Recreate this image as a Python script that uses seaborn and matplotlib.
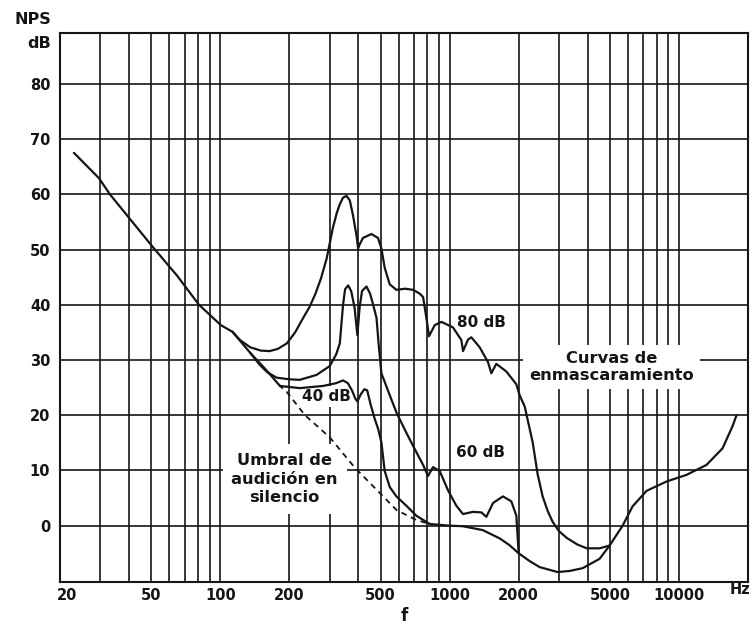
import matplotlib
matplotlib.use("Agg")
import matplotlib.pyplot as plt
import matplotlib.transforms as mtransforms
from matplotlib.ticker import FixedLocator, FixedFormatter, NullFormatter
import numpy as np
import seaborn as sns

# ---- data: frequency (Hz) and sound pressure level (dB) ----
# threshold of hearing in quiet
umbral_f = [23, 29.6, 33, 50.9, 64.7, 80.7, 100.6, 113, 135, 160, 182, 195, 234,
            300, 386, 588, 719, 819, 1000, 1140, 1394, 1652, 1820, 2000, 2230,
            2468, 2958, 3336, 3800, 4508, 4984, 5680, 6278, 7222, 8832, 10790,
            13188, 15486, 17118, 17826]
umbral_db = [67.5, 62.9, 60, 50.4, 45.3, 40, 36.3, 35.1, 31.3, 28.0, 25.3, 24.2,
             20, 16, 10.5, 2.8, 1.0, 0.3, 0, -0.1, -0.8, -2.3, -3.5, -5, -6.4,
             -7.5, -8.4, -8.2, -7.7, -6, -3.6, 0, 3.5, 6.3, 8, 9.2,
             11, 14, 18, 20]

# masking curve, 80 dB masker
m80_f = [113, 122, 135, 150, 164, 178, 195, 212, 229, 245, 260, 275, 291, 310,
         322, 332, 343, 355, 367, 379, 393, 399, 406, 419, 456, 487, 504, 521,
         548, 586, 640, 693, 741, 766, 792, 813, 861, 921, 1034, 1125, 1144,
         1203, 1244, 1352, 1470, 1520, 1598, 1768, 1954, 2020, 2124, 2302, 2420,
         2544, 2680, 2813, 3000, 3238, 3600, 3958, 4508, 4984]
m80_db = [35.1, 33.6, 32.3, 31.7, 31.6, 32.0, 33.0, 35.0, 37.5, 39.6, 42.0, 44.8,
          48.4, 54.0, 56.6, 58.2, 59.4, 59.7, 58.9, 56.2, 52.4, 50.2, 51.0, 52.1,
          52.8, 52.1, 50.2, 46.7, 43.7, 42.7, 42.9, 42.7, 42.0, 41.4, 37.6, 34.3,
          36.3, 36.9, 35.9, 33.6, 31.6, 33.7, 34.1, 32.3, 29.6, 27.6, 29.3, 27.9,
          25.6, 23.6, 21.6, 15.1, 9.3, 5.3, 2.6, 0.7, -1.0, -2.2, -3.4, -4.1,
          -4.1, -3.6]

# masking curve, 60 dB masker
m60_f = [135, 148, 160, 176, 200, 222, 263, 300, 320, 332, 343, 350, 361, 372,
         385, 396, 405, 415, 434, 450, 464, 480, 490, 504, 538, 586, 648, 704,
         766, 805, 846, 905, 984, 1070, 1144, 1264, 1375, 1446, 1546, 1708, 1858,
         1954, 2000]
m60_db = [31.3, 29.2, 27.8, 26.8, 26.5, 26.4, 27.3, 28.9, 31.0, 33.0, 40.0, 42.8,
          43.5, 42.5, 39.5, 34.5, 39.5, 42.5, 43.3, 42.0, 40.0, 37.6, 33.0, 27.6,
          24.5, 20.5, 16.8, 13.9, 11.0, 9.0, 10.6, 9.9, 6.4, 3.6, 2.1, 2.5, 2.4,
          1.6, 4.1, 5.3, 4.4, 1.8, -5.0]

# masking curve, 40 dB masker
m40_f = [182, 222, 281, 320, 343, 360, 375, 388, 396, 410, 425, 437, 452, 470,
         488, 504, 521, 548, 586, 648, 716, 819]
m40_db = [25.3, 24.9, 25.3, 25.8, 26.3, 25.8, 24.5, 23.0, 22.5, 23.8, 24.7, 24.5,
          22.0, 19.5, 17.5, 15.1, 9.9, 7.0, 5.3, 3.6, 1.8, 0.3]

# axes ticks and grid
tick_hz = [20, 50, 100, 200, 500, 1000, 2000, 5000, 10000]
tick_labels = ["20", "50", "100", "200", "500", "1000", "2000", "5000", "10000"]
grid_hz = [20, 30, 40, 50, 60, 70, 80, 90, 100, 200, 300, 400, 500, 600, 700, 800,
           900, 1000, 2000, 3000, 4000, 5000, 6000, 7000, 8000, 9000, 10000]
db_ticks = [0, 10, 20, 30, 40, 50, 60, 70, 80]

# ---- figure ----
sns.set_theme(style="white")
plt.rcParams["font.family"] = ["DejaVu Sans"]
plt.rcParams["font.weight"] = "bold"

INK = "#151515"
W, H = 753, 628
fig = plt.figure(figsize=(W / 100, H / 100), dpi=100, facecolor="white")
ax = fig.add_axes([60 / W, 46 / H, 688 / W, 549 / H])
ax.set_facecolor("white")
ax.set_xscale("log")
ax.set_xlim(20, 20000)
ax.set_ylim(-10.2, 89.2)

ax.xaxis.set_major_locator(FixedLocator(tick_hz))
ax.xaxis.set_major_formatter(FixedFormatter(tick_labels))
ax.xaxis.set_minor_locator(FixedLocator(grid_hz))
ax.xaxis.set_minor_formatter(NullFormatter())
ax.set_yticks(db_ticks)
ax.set_yticklabels([str(v) for v in db_ticks])
ax.set_axisbelow(True)
ax.grid(True, which="both", axis="both", color=INK, lw=1.2)
ax.tick_params(axis="both", which="both", length=0, labelsize=10.5,
               labelcolor=INK)
ax.tick_params(axis="x", pad=4)
ax.tick_params(axis="y", pad=7)
for lab in ax.get_xticklabels() + ax.get_yticklabels():
    lab.set_fontweight("bold")
# the first frequency label sits just right of the frame corner
first = ax.get_xticklabels()[0]
first.set_transform(first.get_transform() +
                    mtransforms.ScaledTranslation(5 / 72, 0, fig.dpi_scale_trans))

for sp in ax.spines.values():
    sp.set_visible(True)
    sp.set_color(INK)
    sp.set_linewidth(1.5)


def trace(f, db, width=1.6, **kw):
    sns.lineplot(x=f, y=db, ax=ax, estimator=None, sort=False, color=INK,
                 linewidth=width, zorder=4, **kw)


uf = np.asarray(umbral_f)
ud = np.asarray(umbral_db)
low = uf <= 182
mid = (uf >= 182) & (uf <= 819)
high = uf >= 819
trace(uf[low], ud[low])
trace(uf[mid], ud[mid], width=1.3, linestyle=(1, (3.2, 2.6)))
trace(uf[high], ud[high])
trace(m80_f, m80_db)
trace(m60_f, m60_db)
trace(m40_f, m40_db)

box = dict(facecolor="white", edgecolor="none", boxstyle="square,pad=0.25")
txt = dict(ha="center", va="center", fontweight="bold", color=INK, zorder=3)
ax.text(1370, 36.7, "80 dB", fontsize=11, bbox=box, **txt)
ax.text(1370, 13.2, "60 dB", fontsize=11, bbox=box, **txt)
ax.text(291, 23.4, "40 dB", fontsize=11,
        bbox=dict(facecolor="white", edgecolor="none",
                  boxstyle="square,pad=0.2"), **txt)
ax.text(191, 8.4, "Umbral de\naudición en\nsilencio", fontsize=11.7,
        linespacing=1.28,
        bbox=dict(facecolor="white", edgecolor="none",
                  boxstyle="square,pad=0.55"), **txt)
ax.text(5080, 28.7, "Curvas de\nenmascaramiento", fontsize=11.7,
        linespacing=1.12,
        bbox=dict(facecolor="white", edgecolor="none",
                  boxstyle="square,pad=0.4"), **txt)

lbl = dict(fontweight="bold", color=INK)
fig.text(51 / W, 1 - 20 / H, "NPS", ha="right", va="center", fontsize=11.5, **lbl)
fig.text(51 / W, 1 - 43 / H, "dB", ha="right", va="center", fontsize=11.5, **lbl)
fig.text(740 / W, 1 - 590 / H, "Hz", ha="center", va="center", fontsize=10.5, **lbl)
fig.text(404 / W, 1 - 616 / H, "f", ha="center", va="center", fontsize=12, **lbl)

fig.savefig("out.png", dpi=100, facecolor="white")
